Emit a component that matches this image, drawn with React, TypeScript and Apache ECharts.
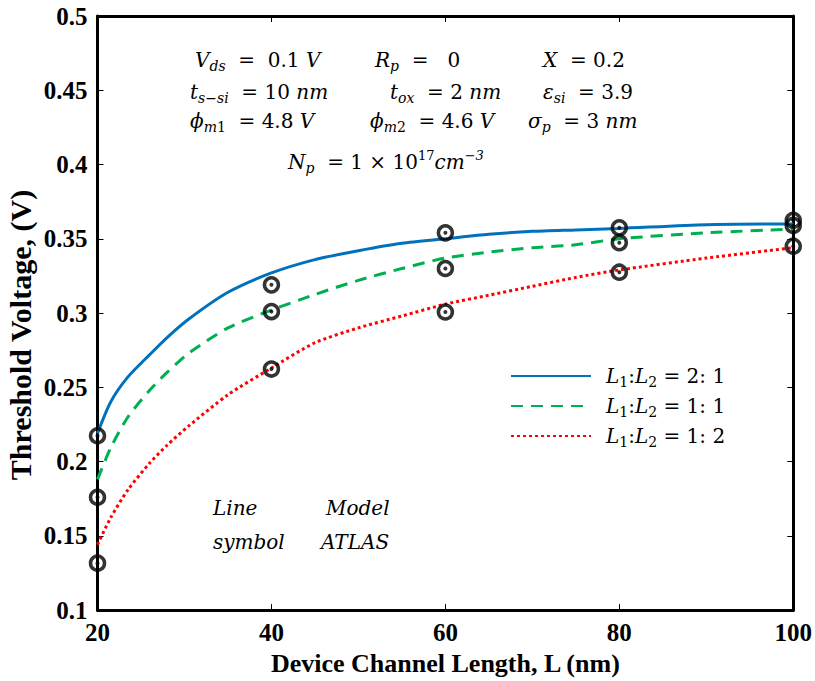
import React, { useEffect, useRef } from "react";
import * as echarts from "echarts";

// ---------- data ----------
const xTicks = [20, 40, 60, 80, 100];
const curveL = [20, 21.5, 23.5, 26, 28, 30.5, 35, 40, 45, 50, 55, 60, 65, 70, 75, 80, 90, 100];
const model21 = [0.219, 0.24, 0.257, 0.272, 0.2835, 0.296, 0.314, 0.327, 0.336, 0.342, 0.347, 0.35, 0.353, 0.355, 0.356, 0.357, 0.3595, 0.36];
const model11 = [0.188, 0.209, 0.23, 0.248, 0.26, 0.273, 0.29, 0.302, 0.3125, 0.322, 0.33, 0.337, 0.341, 0.344, 0.346, 0.35, 0.354, 0.3566];
const model12 = [0.144, 0.162, 0.181, 0.199, 0.211, 0.224, 0.245, 0.263, 0.28, 0.29, 0.298, 0.306, 0.312, 0.318, 0.324, 0.329, 0.337, 0.344];

const atlasL = [20, 40, 60, 80, 100];
const atlas21 = [0.2174, 0.319, 0.354, 0.3574, 0.3625];
const atlas11 = [0.176, 0.301, 0.33, 0.3474, 0.359];
const atlas12 = [0.1316, 0.2623, 0.3007, 0.3275, 0.345];

const seriesNames = ["L1:L2 = 2:1", "L1:L2 = 1:1", "L1:L2 = 1:2"];
const legendLabels = [
  "{i|L}{sr|1}{r|:}{i|L}{sr|2}{r| = 2: 1}",
  "{i|L}{sr|1}{r|:}{i|L}{sr|2}{r| = 1: 1}",
  "{i|L}{sr|1}{r|:}{i|L}{sr|2}{r| = 1: 2}",
];

const AX = "'Liberation Serif', 'Times New Roman', serif";
const MATH = "'DejaVu Serif', serif";

const mathRich = {
  i: { fontFamily: MATH, fontStyle: "italic", fontSize: 20, lineHeight: 26, color: "#000" },
  r: { fontFamily: MATH, fontSize: 20, lineHeight: 26, color: "#000" },
  si: { fontFamily: MATH, fontStyle: "italic", fontSize: 14, lineHeight: 14, verticalAlign: "bottom", color: "#000" },
  sr: { fontFamily: MATH, fontSize: 14, lineHeight: 14, verticalAlign: "bottom", color: "#000" },
  pr: { fontFamily: MATH, fontSize: 13, lineHeight: 13, verticalAlign: "top", color: "#000" },
  pi: { fontFamily: MATH, fontStyle: "italic", fontSize: 13, lineHeight: 13, verticalAlign: "top", color: "#000" },
};

const annotations: [string, number, number][] = [
  ["{i|V}{si|ds}{r|  =  0.1 }{i|V}", 195, 60],
  ["{i|R}{si|p}{r|  =   0}", 375, 60],
  ["{i|X}{r|  = 0.2}", 543, 60],
  ["{i|t}{si|s−si}{r|  = 10 }{i|nm}", 190, 92],
  ["{i|t}{si|ox}{r|  = 2 }{i|nm}", 390, 92],
  ["{i|ε}{si|si}{r|  = 3.9}", 543, 92],
  ["{i|ϕ}{si|m}{sr|1}{r|  = 4.8 }{i|V}", 190, 121],
  ["{i|ϕ}{si|m}{sr|2}{r|  = 4.6 }{i|V}", 370, 121],
  ["{i|σ}{si|p}{r|  = 3 }{i|nm}", 528, 121],
  ["{i|N}{si|p}{r|  = 1 × 10}{pr|17}{i|cm}{pi|−3}", 288, 162],
  ["{i|Line}", 213, 508],
  ["{i|Model}", 326, 508],
  ["{i|symbol}", 213, 542],
  ["{i|ATLAS}", 321, 542],
];

const pairs = (xs: number[], ys: number[]) => xs.map((x, i) => [x, ys[i]]);

export default function App() {
  const ref = useRef<HTMLDivElement>(null);
  useEffect(() => {
    if (!ref.current) return;
    const chart = echarts.init(ref.current, undefined, { renderer: "svg" });
    const axisCommon = {
      type: "value",
      axisLine: { show: true, onZero: false, lineStyle: { color: "#000", width: 3 } },
      axisTick: { show: true, inside: true, length: 6, lineStyle: { color: "#000", width: 1 } },
      splitLine: { show: false },
    };
    const lineColors = ["#0072BD", "#00B050", "#FF0000"];
    const lineTypes: any[] = ["solid", [12, 8], [3, 3]];
    const models = [model21, model11, model12];
    const atlas = [atlas21, atlas11, atlas12];
    const option: any = {
      animation: false,
      backgroundColor: "#fff",
      grid: { left: 97.5, right: 17.5, top: 16, bottom: 68, containLabel: false },
      xAxis: [
        {
          ...axisCommon,
          position: "bottom",
          min: 20,
          max: 100,
          interval: 20,
          axisLabel: { color: "#000", fontFamily: AX, fontWeight: "bold", fontSize: 25, margin: 10 },
          name: "Device Channel Length, L (nm)",
          nameLocation: "middle",
          nameGap: 38,
          nameTextStyle: { color: "#000", fontFamily: AX, fontWeight: "bold", fontSize: 26 },
        },
        { ...axisCommon, position: "top", min: 20, max: 100, interval: 20, axisLabel: { show: false } },
      ],
      yAxis: [
        {
          ...axisCommon,
          position: "left",
          min: 0.1,
          max: 0.5,
          interval: 0.05,
          axisLabel: { color: "#000", fontFamily: AX, fontWeight: "bold", fontSize: 25, margin: 10 },
        },
        { ...axisCommon, position: "right", min: 0.1, max: 0.5, interval: 0.05, axisLabel: { show: false } },
      ],
      legend: {
        data: seriesNames,
        orient: "vertical",
        left: 510,
        top: 366,
        padding: 0,
        itemWidth: 80,
        itemHeight: 14,
        itemGap: 7,
        itemStyle: { opacity: 0 },
        formatter: (name: string) => legendLabels[seriesNames.indexOf(name)],
        textStyle: { rich: mathRich, padding: [0, 0, 0, 10] },
      },
      graphic: [
        ...annotations.map(([t, x, y]) => ({
          type: "text",
          x,
          y,
          z: 10,
          style: { text: t, rich: mathRich, align: "left", verticalAlign: "middle", fill: "#000" },
        })),
        {
          type: "text",
          x: 20,
          y: 335,
          rotation: Math.PI / 2,
          style: {
            text: "Threshold Voltage, (V)",
            fontFamily: AX,
            fontWeight: "bold",
            fontSize: 30,
            fill: "#000",
            align: "center",
            verticalAlign: "middle",
          },
        },
      ],
      series: [
        ...models.map((m, k) => ({
          type: "line",
          name: seriesNames[k],
          data: pairs(curveL, m),
          symbol: "none",
          showSymbol: false,
          smooth: 0.25,
          color: lineColors[k],
          lineStyle: { color: lineColors[k], width: 3, type: lineTypes[k] },
          z: 2,
        })),
        ...atlas.map((a, k) => ({
          type: "scatter",
          name: "ATLAS " + k,
          data: pairs(atlasL, a),
          symbol: "circle",
          symbolSize: 14,
          clip: false,
          itemStyle: { color: "rgba(0,0,0,0)", borderColor: "#000", borderWidth: 3.5 },
          z: 4,
        })),
        ...atlas.map((a, k) => ({
          type: "scatter",
          name: "ATLAS dot " + k,
          data: pairs(atlasL, a),
          symbol: "circle",
          symbolSize: 4,
          clip: false,
          itemStyle: { color: "#000" },
          z: 5,
        })),
      ],
    };
    chart.setOption(option);
    return () => chart.dispose();
  }, []);
  return (
    <div
      ref={ref}
      style={{ position: "fixed", left: 0, top: 0, width: 815, height: 681, background: "#fff" }}
    />
  );
}
